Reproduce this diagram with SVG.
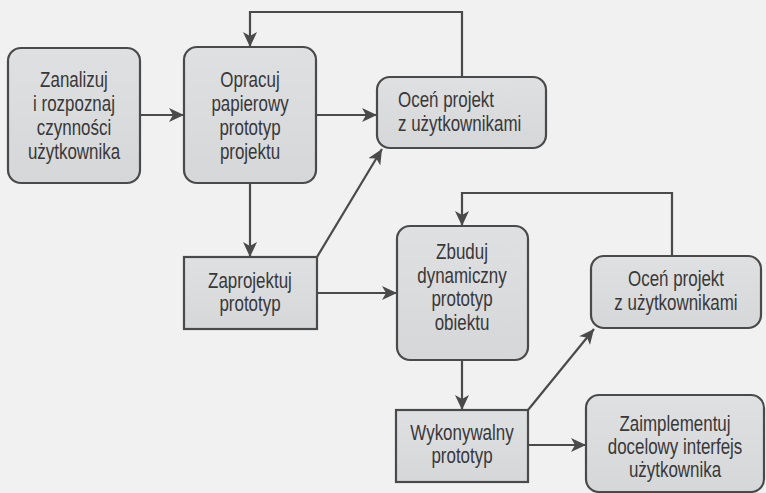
<svg xmlns="http://www.w3.org/2000/svg" width="766" height="493" viewBox="0 0 766 493">
  <defs>
    <marker id="arrow" markerUnits="userSpaceOnUse" markerWidth="16" markerHeight="14" refX="15" refY="7" orient="auto">
      <path d="M0,0 L15,7 L0,14 L4,7 Z" fill="#4a4a4a"/>
    </marker>
    <linearGradient id="boxFill" x1="0" y1="0" x2="0" y2="1">
      <stop offset="0" stop-color="#dfe0e2"/>
      <stop offset="1" stop-color="#d6d7d9"/>
    </linearGradient>
  </defs>
  <style>
    .box { fill: url(#boxFill); stroke: #4a4a4a; stroke-width: 2.2; }
    .lbl { font-family: "Liberation Sans", Arial, sans-serif; font-size: 22px; fill: #383838; text-anchor: middle; }
    .lbl.left { text-anchor: start; }
    .conn { fill: none; stroke: #4a4a4a; stroke-width: 2.2; marker-end: url(#arrow); }
  </style>
  <rect width="766" height="493" fill="#f1f1f1"/>

  <g id="connectors">
    <path class="conn" d="M140,115 H184"/>
    <path class="conn" d="M316,115 H377"/>
    <path class="conn" d="M462,77 V12 H250 V47"/>
    <path class="conn" d="M250,183 V257"/>
    <path class="conn" d="M317,257 L382,149"/>
    <path class="conn" d="M317,293 H397"/>
    <path class="conn" d="M462,360 V410"/>
    <path class="conn" d="M672,256 V193 H462 V226"/>
    <path class="conn" d="M528,410 L594,329"/>
    <path class="conn" d="M528,445 H586"/>
  </g>

  <!-- labels are set in a condensed face: each label block is squeezed horizontally -->
  <g id="analyze">
    <rect class="box" x="8" y="48" width="132" height="135" rx="13"/>
    <g transform="translate(74,0) scale(0.77,1)">
      <text class="lbl" x="0" y="87">Zanalizuj</text>
      <text class="lbl" x="0" y="111">i rozpoznaj</text>
      <text class="lbl" x="0" y="135">czynności</text>
      <text class="lbl" x="0" y="159">użytkownika</text>
    </g>
  </g>

  <g id="paper-prototype">
    <rect class="box" x="184" y="47" width="132" height="136" rx="13"/>
    <g transform="translate(250,0) scale(0.77,1)">
      <text class="lbl" x="0" y="87">Opracuj</text>
      <text class="lbl" x="0" y="111">papierowy</text>
      <text class="lbl" x="0" y="135">prototyp</text>
      <text class="lbl" x="0" y="159">projektu</text>
    </g>
  </g>

  <g id="evaluate-1">
    <rect class="box" x="377" y="77" width="169" height="71" rx="13"/>
    <g transform="translate(398,0) scale(0.77,1)">
      <text class="lbl left" x="0" y="107">Oceń projekt</text>
      <text class="lbl left" x="0" y="131">z użytkownikami</text>
    </g>
  </g>

  <g id="design-prototype">
    <rect class="box" x="184" y="257" width="133" height="72"/>
    <g transform="translate(250,0) scale(0.77,1)">
      <text class="lbl" x="0" y="288">Zaprojektuj</text>
      <text class="lbl" x="0" y="311">prototyp</text>
    </g>
  </g>

  <g id="dynamic-prototype">
    <rect class="box" x="397" y="226" width="131" height="134" rx="13"/>
    <g transform="translate(462,0) scale(0.77,1)">
      <text class="lbl" x="0" y="259">Zbuduj</text>
      <text class="lbl" x="0" y="283">dynamiczny</text>
      <text class="lbl" x="0" y="306">prototyp</text>
      <text class="lbl" x="0" y="330">obiektu</text>
    </g>
  </g>

  <g id="evaluate-2">
    <rect class="box" x="591" y="256" width="170" height="72" rx="13"/>
    <g transform="translate(676,0) scale(0.77,1)">
      <text class="lbl" x="0" y="286">Oceń projekt</text>
      <text class="lbl" x="0" y="310">z użytkownikami</text>
    </g>
  </g>

  <g id="executable-prototype">
    <rect class="box" x="396" y="410" width="132" height="72"/>
    <g transform="translate(462,0) scale(0.77,1)">
      <text class="lbl" x="0" y="440">Wykonywalny</text>
      <text class="lbl" x="0" y="463">prototyp</text>
    </g>
  </g>

  <g id="implement">
    <rect class="box" x="586" y="395" width="178" height="97" rx="13"/>
    <g transform="translate(675,0) scale(0.77,1)">
      <text class="lbl" x="0" y="431">Zaimplementuj</text>
      <text class="lbl" x="0" y="454">docelowy interfejs</text>
      <text class="lbl" x="0" y="477">użytkownika</text>
    </g>
  </g>
</svg>
